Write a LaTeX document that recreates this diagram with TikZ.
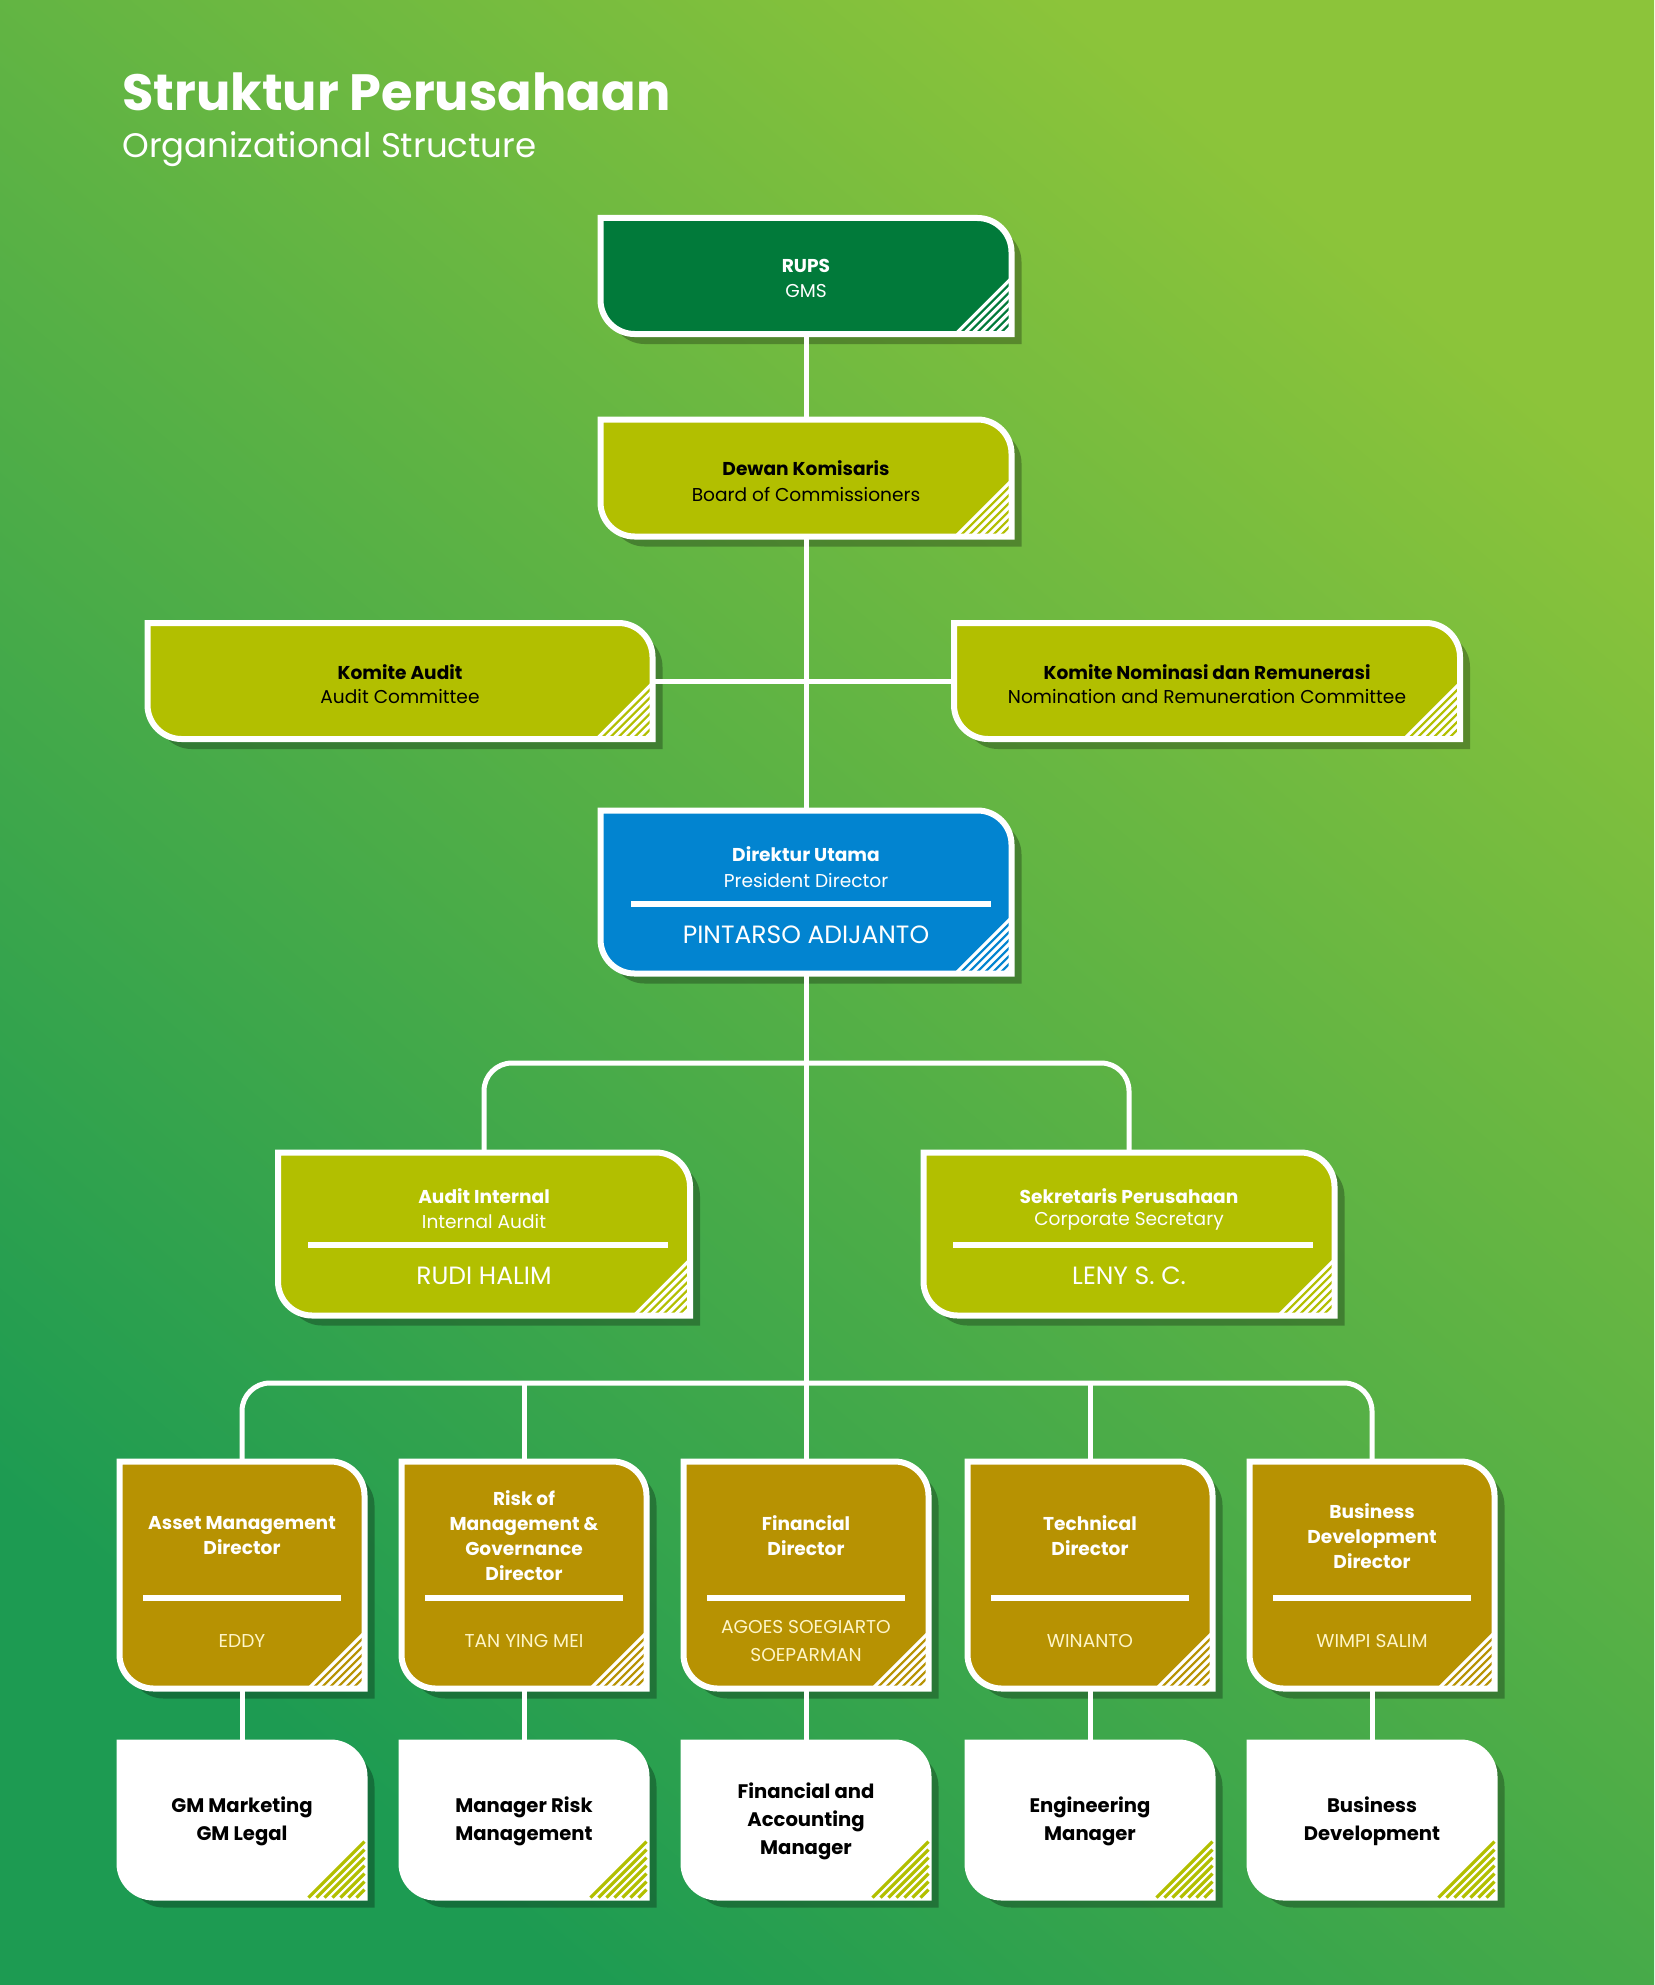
\documentclass[tikz,border=0pt]{standalone}
\usepackage{fontspec}
\setmainfont{Poppins}
\definecolor{bgA}{HTML}{1D9B52}
\definecolor{bgB}{HTML}{8CC43A}
\definecolor{rups}{HTML}{017A3A}
\definecolor{lime}{HTML}{B2BF00}
\definecolor{blueb}{HTML}{0284D0}
\definecolor{gold}{HTML}{B79202}
\definecolor{cream}{HTML}{FFF6C8}
\newcommand\orgbox[7]{%
 \begin{scope}[shift={(#2,#3)}]
  \pgfmathsetmacro\hw{#4/2}\pgfmathsetmacro\hh{#5/2}
  \def\r{34}
  \fill[black,opacity=.28,shift={(10,10)}] (-\hw,-\hh) -- (\hw-\r,-\hh) .. controls (\hw-0.45*\r,-\hh) and (\hw,-\hh+0.45*\r) .. (\hw,-\hh+\r) -- (\hw,\hh) -- (-\hw+\r,\hh) .. controls (-\hw+0.45*\r,\hh) and (-\hw,\hh-0.45*\r) .. (-\hw,\hh-\r) -- cycle;
  \path[fill=#6,draw=white,line width=3] (-\hw,-\hh) -- (\hw-\r,-\hh) .. controls (\hw-0.45*\r,-\hh) and (\hw,-\hh+0.45*\r) .. (\hw,-\hh+\r) -- (\hw,\hh) -- (-\hw+\r,\hh) .. controls (-\hw+0.45*\r,\hh) and (-\hw,\hh-0.45*\r) .. (-\hw,\hh-\r) -- cycle;
  \foreach \k in {8,16,...,56}{\draw[#7,line width=1.6] (\hw-\k,\hh) -- (\hw,\hh-\k);}
  \node (#1) [inner sep=0,minimum width={#4*0.5pt},minimum height={#5*0.5pt}] at (0,0) {};
 \end{scope}}
\tikzset{
 link/.style={white,line width=2.5},
 tt/.style={font=\fontsize{9.3}{12.5}\selectfont,align=center},
 tb/.style={font=\bfseries\fontsize{9.3}{12.5}\selectfont,align=center},
 nm/.style={font=\fontsize{12.5}{15}\selectfont,align=center},
 dn/.style={font=\fontsize{9.3}{14}\selectfont,align=center,text=cream},
 bt/.style={font=\bfseries\fontsize{9.8}{14}\selectfont,align=center},
 dv/.style={white,line width=3}
}
\begin{document}
\begin{tikzpicture}[x=0.5pt,y=-0.5pt]
\useasboundingbox (0,0) rectangle (1654,1985);
\shade[bottom color=bgA,top color=bgB,shading angle=-40] (0,0) rectangle (1654,1985);
\node[anchor=base west,text=white,font=\bfseries\fontsize{25.5}{30}\selectfont,inner sep=0] (t1) at (122,111) {Struktur Perusahaan};
\node[anchor=base west,text=white,font=\fontsize{17}{20}\selectfont,inner sep=0] (t2) at (122,158) {Organizational Structure};

\coordinate (c1) at (806,1063);
\coordinate (c2) at (806,1383);
\orgbox{rupsb}{806}{276}{411}{116}{rups}{white}
\orgbox{dewan}{806}{478}{411}{117}{lime}{white}
\orgbox{kaudit}{400}{681}{505}{116}{lime}{white}
\orgbox{knom}{1207}{681}{506}{116}{lime}{white}
\orgbox{dirut}{806}{892}{411}{163}{blueb}{white}
\orgbox{ai}{484}{1234}{412}{163}{lime}{white}
\orgbox{sek}{1129}{1234}{411}{163}{lime}{white}
\orgbox{d1}{242}{1575}{245}{227}{gold}{white}
\orgbox{d2}{524}{1575}{245}{227}{gold}{white}
\orgbox{d3}{806}{1575}{245}{227}{gold}{white}
\orgbox{d4}{1090}{1575}{245}{227}{gold}{white}
\orgbox{d5}{1372}{1575}{245}{227}{gold}{white}
\orgbox{b1}{242}{1820}{245}{155}{white}{lime}
\orgbox{b2}{524}{1820}{245}{155}{white}{lime}
\orgbox{b3}{806}{1820}{245}{155}{white}{lime}
\orgbox{b4}{1090}{1820}{245}{155}{white}{lime}
\orgbox{b5}{1372}{1820}{245}{155}{white}{lime}

\draw[link] (rupsb.south) -- (dewan.north);
\draw[link] (dewan.south) -- (dirut.north);
\draw[link] (kaudit.east) -- (knom.west);
\draw[link] (dirut.south) -- (d3.north);
\draw[link,rounded corners=14] (ai.north) |- (c1) -| (sek.north);
\draw[link,rounded corners=14] (d1.north) |- (c2) -| (d5.north);
\draw[link] (d2.north) -- (d2.north |- c2);
\draw[link] (d4.north) -- (d4.north |- c2);
\foreach \i in {1,...,5}{\draw[link] (d\i.south) -- (b\i.north);}

\node[tb,text=white] (x1) at (806,266) {RUPS};
\node[tt,text=white] (x2) at (806,291) {GMS};
\node[tb] (x3) at (806,468) {Dewan Komisaris};
\node[tt] (x4) at (806,494) {Board of Commissioners};
\node[tb] (x5) at (400,672) {Komite Audit};
\node[tt] (x6) at (400,697) {Audit Committee};
\node[tb] (x7) at (1207,672) {Komite Nominasi dan Remunerasi};
\node[tt] (x8) at (1207,697) {Nomination and Remuneration Committee};
\node[tb,text=white] (x9) at (806,854) {Direktur Utama};
\node[tt,text=white] (x10) at (806,880) {President Director};
\draw[dv] (631,904) -- (991,904);
\node[nm,text=white] (x11) at (806,935) {PINTARSO ADIJANTO};
\node[tb,text=white] (x12) at (484,1196) {Audit Internal};
\node[tt,text=white] (x13) at (484,1221) {Internal Audit};
\draw[dv] (308,1245) -- (668,1245);
\node[nm,text=white] (x14) at (484,1276) {RUDI HALIM};
\node[tb,text=white] (x15) at (1129,1196) {Sekretaris Perusahaan};
\node[tt,text=white] (x16) at (1129,1221) {Corporate Secretary};
\draw[dv] (953,1245) -- (1313,1245);
\node[nm,text=white] (x17) at (1129,1276) {LENY S. C.};

\foreach \x in {242,524,806,1090,1372}{\draw[dv] (\x-99,1598) -- (\x+99,1598);}
\node[tb,text=white] (y1) at (242,1536) {Asset Management\\Director};
\node[tb,text=white] (y2) at (524,1536) {Risk of\\Management \&\\Governance\\Director};
\node[tb,text=white] (y3) at (806,1536) {Financial\\Director};
\node[tb,text=white] (y4) at (1090,1536) {Technical\\Director};
\node[tb,text=white] (y5) at (1372,1536) {Business\\Development\\Director};
\node[dn] (z1) at (242,1641) {EDDY};
\node[dn] (z2) at (524,1641) {TAN YING MEI};
\node[dn] (z3) at (806,1641) {AGOES SOEGIARTO\\SOEPARMAN};
\node[dn] (z4) at (1090,1641) {WINANTO};
\node[dn] (z5) at (1372,1641) {WIMPI SALIM};
\node[bt] (w1) at (242,1821) {GM Marketing\\GM Legal};
\node[bt] (w2) at (524,1821) {Manager Risk\\Management};
\node[bt] (w3) at (806,1821) {Financial and\\Accounting\\Manager};
\node[bt] (w4) at (1090,1821) {Engineering\\Manager};
\node[bt] (w5) at (1372,1821) {Business\\Development};
\end{tikzpicture}
\end{document}
